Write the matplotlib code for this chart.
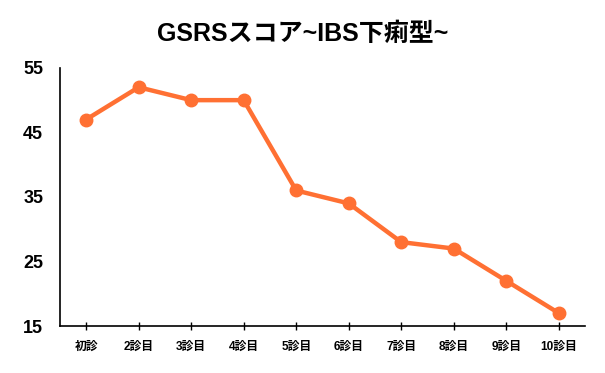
import matplotlib
matplotlib.use("Agg")
import matplotlib.pyplot as plt

plt.rcParams['font.family'] = ['Liberation Sans', 'Noto Sans CJK JP', 'DejaVu Sans']

# data
visits = ["初診", "2診目", "3診目", "4診目", "5診目", "6診目", "7診目", "8診目", "9診目", "10診目"]
scores = [47, 52, 50, 50, 36, 34, 28, 27, 22, 17]
y_ticks = [15, 25, 35, 45, 55]
title = "GSRSスコア~IBS下痢型~"

fig = plt.figure(figsize=(6.05, 3.73), dpi=100)
ax = fig.add_axes([0.099, 0.126, 0.868, 0.692])

x = range(len(visits))
ax.plot(x, scores, color="#FF7033", linewidth=3.2, marker="o", markersize=9,
        solid_capstyle="round")

ax.set_xlim(-0.5, len(visits) - 0.5)
ax.set_ylim(15, 55)
ax.set_yticks(y_ticks)
ax.set_yticklabels([str(v) for v in y_ticks], fontsize=13, fontweight="bold")
ax.set_xticks(list(x))
ax.set_xticklabels(visits, fontsize=8.5, fontweight="bold")

ax.spines["top"].set_visible(False)
ax.spines["right"].set_visible(False)
ax.spines["left"].set_linewidth(1.2)
ax.spines["bottom"].set_linewidth(1.2)
ax.tick_params(axis="y", length=0, pad=12)
ax.tick_params(axis="x", direction="inout", length=6, width=1, pad=8)

fig.text(0.5, 0.91, title, ha="center", va="center", fontsize=18, fontweight="bold")

fig.savefig("out.png", dpi=100)
